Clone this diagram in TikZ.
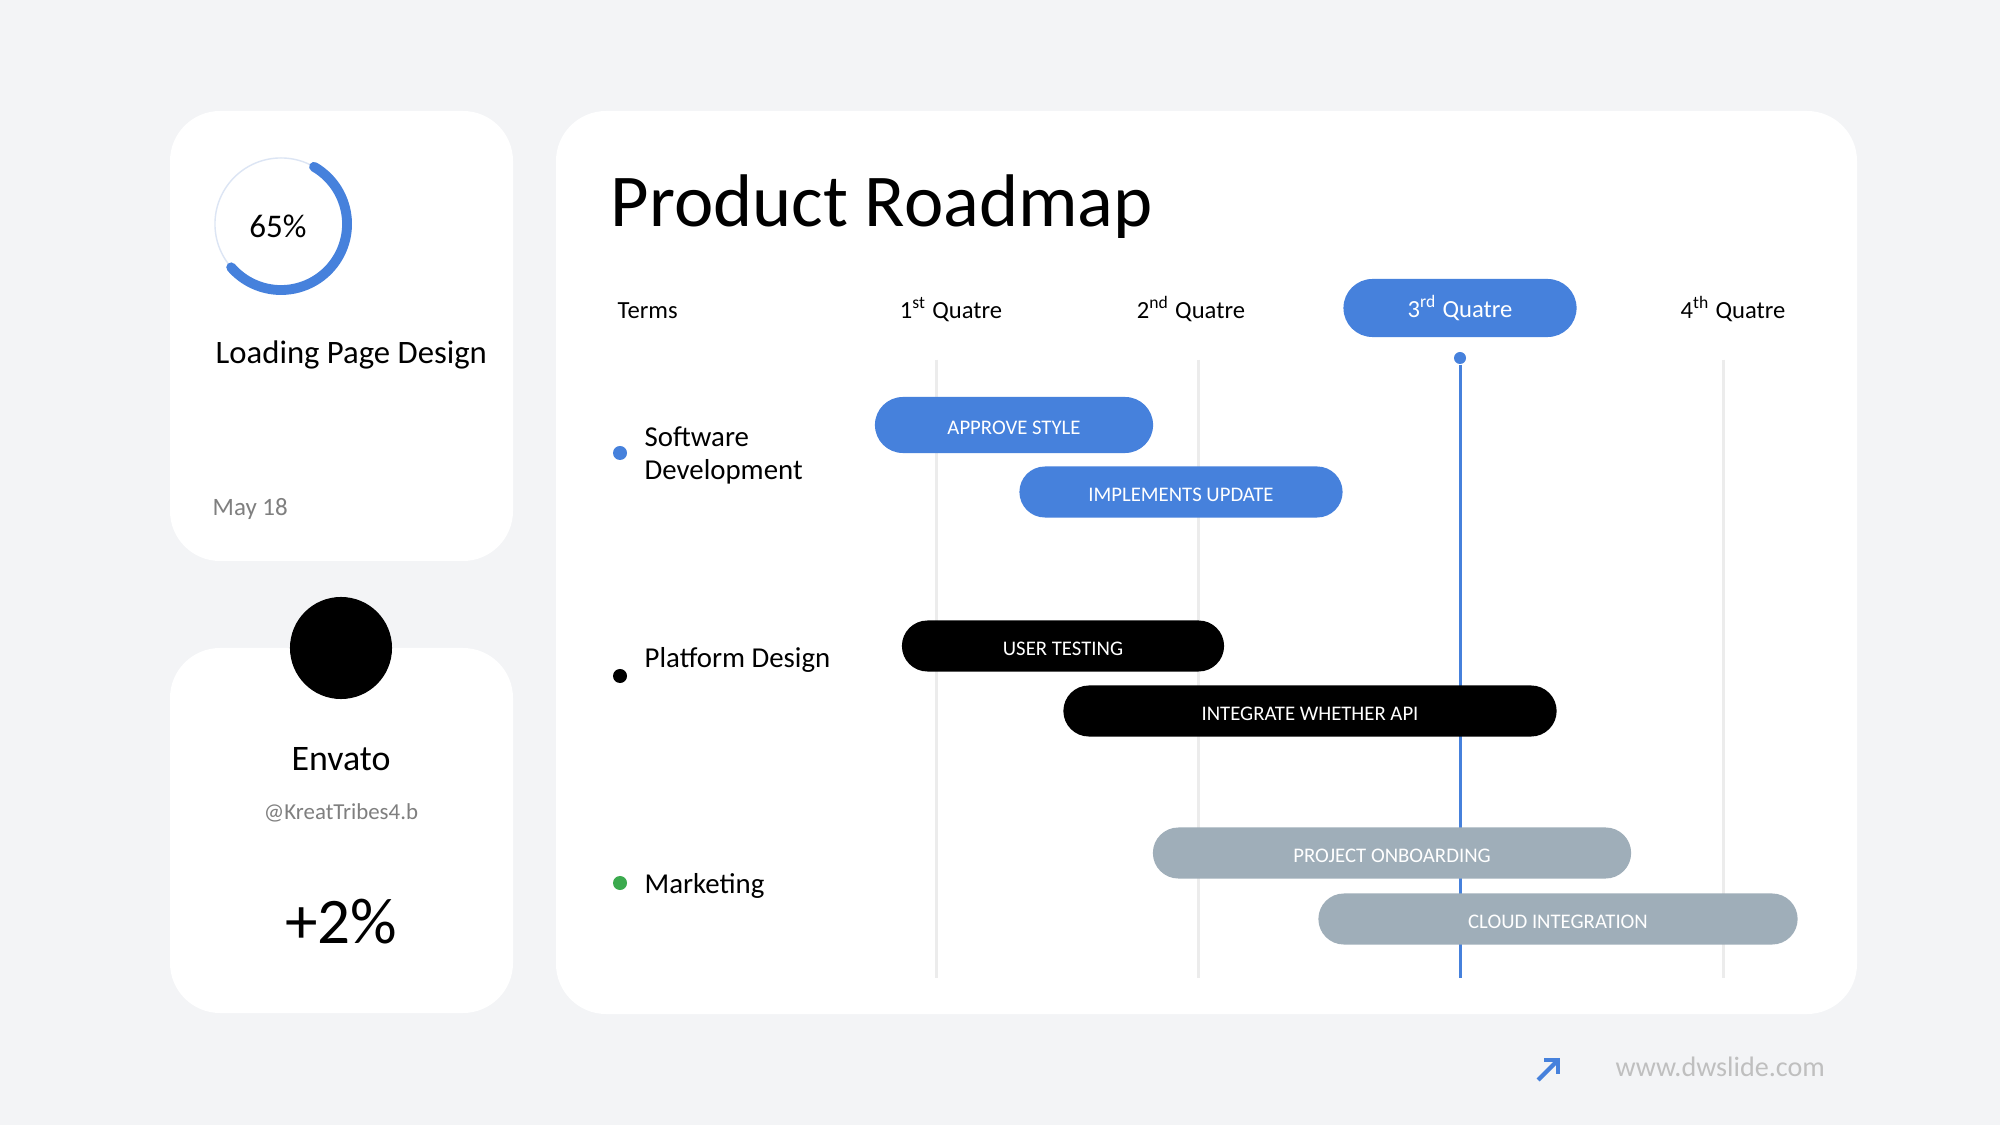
\documentclass[tikz,border=0pt]{standalone}
\usepackage{fontspec}
\setmainfont{Carlito}
\usetikzlibrary{shapes.misc}
\definecolor{bgcol}{HTML}{F3F4F6}
\definecolor{roadblue}{HTML}{4681DC}
\definecolor{roadgray}{HTML}{9FAEB9}
\definecolor{gridcol}{HTML}{ECECEC}
\definecolor{ringcol}{HTML}{DCE5F4}
\definecolor{greenbul}{HTML}{3BAA4E}
\definecolor{subtext}{HTML}{7F7F7F}
\definecolor{webtext}{HTML}{BFBFBF}

\begin{document}
\begin{tikzpicture}[x=0.01cm,y=-0.01cm,every node/.style={inner sep=0pt},
	card/.style={fill=white,rounded corners=0.5cm},
	bar/.style={rounded rectangle,minimum height=0.51cm,text=white,text height=5.4pt,text depth=0pt,font=\fontsize{5.9}{7}\selectfont},
	head/.style={anchor=base,font=\fontsize{7}{8}\selectfont},
	rowlabel/.style={anchor=base west,font=\fontsize{8.2}{9.4}\selectfont,align=left},
	bullet/.style={circle,minimum size=0.14cm}]
		\fill[bgcol] (0,0) rectangle (2000,1125);
		\useasboundingbox (0,0) rectangle (2000,1125);
		\fill[card] (170,111) rectangle (513,561);
		\fill[card] (170,648) rectangle (513,1013);
		\fill[card] (556,111) rectangle (1857,1014);

		\coordinate (ring) at (281,224);
		\draw[ringcol,line width=0.4pt] (ring) circle[radius=0.66cm];
		\draw[roadblue,line width=2.8pt,line cap=round] (ring) ++(60:0.66cm) arc[start angle=60,end angle=-139,radius=0.66cm];
		\node[font=\fontsize{9.4}{11}\selectfont] (pct) at (278,226) {65\%};
		\node[anchor=base west,font=\fontsize{9.3}{11}\selectfont] (task) at (215,364) {Loading Page Design};
		\node[anchor=base west,text=subtext,font=\fontsize{7.1}{8}\selectfont] (date) at (212,516) {May 18};

		\node[circle,fill=black,minimum size=1.02cm] (avatar) at (341,648) {};
		\node[anchor=base,font=\fontsize{10.2}{12}\selectfont] (name) at (341,771) {Envato};
		\node[anchor=base,text=subtext,font=\fontsize{6.5}{8}\selectfont] (handle) at (341,819) {@KreatTribes4.b};
		\node[anchor=base,font=\fontsize{18.5}{22}\selectfont] (gain) at (341,943) {+2\%};

		\node[anchor=base west,font=\fontsize{21.2}{26}\selectfont] (title) at (610,227) {Product Roadmap};

		\node[head,anchor=base west] (terms) at (617,319) {Terms};
		\node[head] (q1) at (951,319) {1\textsuperscript{st} Quatre};
		\node[head] (q2) at (1191,319) {2\textsuperscript{nd} Quatre};
		\node[rounded rectangle,fill=roadblue,text=white,minimum width=2.33cm,minimum height=0.58cm,font=\fontsize{7}{8}\selectfont] (q3) at (1460,308) {3\textsuperscript{rd} Quatre};
		\node[head] (q4) at (1733,319) {4\textsuperscript{th} Quatre};

		\foreach \x in {936,1198,1723}
		\draw[gridcol,line width=0.85pt] (\x,360) -- (\x,978);
		\node[bullet,fill=roadblue,minimum size=0.12cm] (now) at (1460,358) {};
		\coordinate (nowend) at (1460,978);
		\draw[roadblue,line width=0.85pt] (now) -- (nowend);

		\node[bullet,fill=roadblue] (b1) at (620,453) {};
		\node[bullet,fill=black] (b2) at (620,676) {};
		\node[bullet,fill=greenbul] (b3) at (620,883) {};
		\node[rowlabel,anchor=west] (soft) at (644,455) {Software\\Development};
		\node[rowlabel] (plat) at (644,668) {Platform Design};
		\node[rowlabel] (mark) at (644,893) {Marketing};

		\node[bar,fill=roadblue,minimum width=2.78cm,minimum height=0.56cm] (approve) at (1014,425) {APPROVE STYLE};
		\node[bar,fill=roadblue,minimum width=3.23cm] (update) at (1181,492) {IMPLEMENTS UPDATE};
		\node[bar,fill=black,minimum width=3.22cm] (testing) at (1063,646) {USER TESTING};
		\node[bar,fill=black,minimum width=4.93cm] (api) at (1310,711) {INTEGRATE WHETHER API};
		\node[bar,fill=roadgray,minimum width=4.78cm] (onboard) at (1392,853) {PROJECT ONBOARDING};
		\node[bar,fill=roadgray,minimum width=4.79cm] (cloud) at (1558,919) {CLOUD INTEGRATION};

		\coordinate (arrowtail) at (1538,1080);
		\coordinate (arrowtip) at (1558,1060);
		\draw[roadblue,line width=1.2pt] (arrowtail) -- (arrowtip);
		\draw[roadblue,line width=1.2pt] (1544,1060) -- (arrowtip) -- (1558,1074);
		\node[anchor=base west,text=webtext,font=\fontsize{8}{9}\selectfont] (web) at (1615,1076) {www.dwslide.com};
	    \end{tikzpicture}
\end{document}
